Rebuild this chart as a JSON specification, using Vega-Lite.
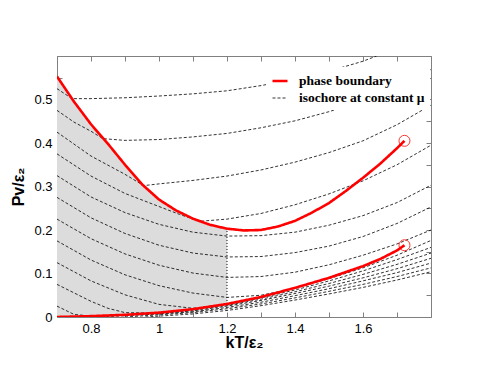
{
"$schema": "https://vega.github.io/schema/vega-lite/v6.json",
"width": 374, "height": 261,
"autosize": "none",
"padding": {"left": 57, "top": 56, "right": 54, "bottom": 57},
"config": {
 "view": {"stroke": "#808080", "strokeWidth": 1},
 "axis": {"domain": false, "grid": false, "tickColor": "#808080", "labelFont": "Liberation Sans", "labelFontSize": 13, "labelColor": "#000", "titleFont": "Liberation Sans", "titleFontSize": 16, "titleFontWeight": "bold", "titleColor": "#000"}
},
"datasets": {
 "fill": [
  {"x":0.7,"lo":0,"hi":0.553},{"x":0.75,"lo":0.001,"hi":0.495},{"x":0.8,"lo":0.002,"hi":0.443},{"x":0.85,"lo":0.003,"hi":0.398},{"x":0.9,"lo":0.005,"hi":0.35},{"x":0.95,"lo":0.007,"hi":0.305},{"x":1.0,"lo":0.01,"hi":0.27},{"x":1.05,"lo":0.014,"hi":0.245},{"x":1.1,"lo":0.018,"hi":0.226},{"x":1.15,"lo":0.024,"hi":0.212},{"x":1.2,"lo":0.03,"hi":0.203}
 ],
 "iso": [
  {"c":1,"x":0.7,"y":0.525},{"c":1,"x":0.744,"y":0.502},{"c":1,"x":0.8,"y":0.502},{"c":1,"x":0.9,"y":0.504},{"c":1,"x":1.0,"y":0.508},{"c":1,"x":1.1,"y":0.513},{"c":1,"x":1.2,"y":0.52},{"c":1,"x":1.3,"y":0.532},{"c":1,"x":1.4,"y":0.547},{"c":1,"x":1.5,"y":0.565},{"c":1,"x":1.6,"y":0.588},{"c":1,"x":1.64,"y":0.6},
  {"c":2,"x":0.7,"y":0.475},{"c":2,"x":0.75,"y":0.448},{"c":2,"x":0.8,"y":0.427},{"c":2,"x":0.835,"y":0.41},{"c":2,"x":0.9,"y":0.406},{"c":2,"x":1.0,"y":0.408},{"c":2,"x":1.1,"y":0.414},{"c":2,"x":1.2,"y":0.422},{"c":2,"x":1.3,"y":0.435},{"c":2,"x":1.4,"y":0.451},{"c":2,"x":1.5,"y":0.472},{"c":2,"x":1.6,"y":0.497},{"c":2,"x":1.7,"y":0.53},{"c":2,"x":1.8,"y":0.569},
  {"c":3,"x":0.7,"y":0.425},{"c":3,"x":0.8,"y":0.37},{"c":3,"x":0.9,"y":0.328},{"c":3,"x":0.955,"y":0.302},{"c":3,"x":1.0,"y":0.306},{"c":3,"x":1.1,"y":0.314},{"c":3,"x":1.2,"y":0.324},{"c":3,"x":1.3,"y":0.338},{"c":3,"x":1.4,"y":0.356},{"c":3,"x":1.5,"y":0.378},{"c":3,"x":1.6,"y":0.405},{"c":3,"x":1.7,"y":0.442},{"c":3,"x":1.8,"y":0.487},
  {"c":4,"x":0.7,"y":0.375},{"c":4,"x":0.8,"y":0.324},{"c":4,"x":0.9,"y":0.284},{"c":4,"x":1.0,"y":0.254},{"c":4,"x":1.06,"y":0.236},{"c":4,"x":1.12,"y":0.22},{"c":4,"x":1.2,"y":0.225},{"c":4,"x":1.3,"y":0.238},{"c":4,"x":1.4,"y":0.258},{"c":4,"x":1.5,"y":0.283},{"c":4,"x":1.6,"y":0.313},{"c":4,"x":1.7,"y":0.35},{"c":4,"x":1.8,"y":0.395},
  {"c":5,"x":0.7,"y":0.325},{"c":5,"x":0.8,"y":0.276},{"c":5,"x":0.9,"y":0.24},{"c":5,"x":1.0,"y":0.213},{"c":5,"x":1.1,"y":0.195},{"c":5,"x":1.2,"y":0.186},{"c":5,"x":1.3,"y":0.187},{"c":5,"x":1.4,"y":0.195},{"c":5,"x":1.5,"y":0.211},{"c":5,"x":1.6,"y":0.233},{"c":5,"x":1.7,"y":0.263},{"c":5,"x":1.8,"y":0.303},
  {"c":6,"x":0.7,"y":0.275},{"c":6,"x":0.8,"y":0.228},{"c":6,"x":0.9,"y":0.192},{"c":6,"x":1.0,"y":0.165},{"c":6,"x":1.1,"y":0.147},{"c":6,"x":1.2,"y":0.138},{"c":6,"x":1.3,"y":0.139},{"c":6,"x":1.4,"y":0.148},{"c":6,"x":1.5,"y":0.163},{"c":6,"x":1.6,"y":0.185},{"c":6,"x":1.7,"y":0.215},{"c":6,"x":1.8,"y":0.253},
  {"c":7,"x":0.7,"y":0.225},{"c":7,"x":0.8,"y":0.18},{"c":7,"x":0.9,"y":0.145},{"c":7,"x":1.0,"y":0.119},{"c":7,"x":1.1,"y":0.101},{"c":7,"x":1.2,"y":0.091},{"c":7,"x":1.3,"y":0.093},{"c":7,"x":1.4,"y":0.103},{"c":7,"x":1.5,"y":0.12},{"c":7,"x":1.6,"y":0.142},{"c":7,"x":1.7,"y":0.168},{"c":7,"x":1.8,"y":0.2},
  {"c":8,"x":0.7,"y":0.175},{"c":8,"x":0.8,"y":0.131},{"c":8,"x":0.9,"y":0.097},{"c":8,"x":1.0,"y":0.072},{"c":8,"x":1.1,"y":0.055},{"c":8,"x":1.2,"y":0.045},{"c":8,"x":1.3,"y":0.05},{"c":8,"x":1.4,"y":0.066},{"c":8,"x":1.5,"y":0.088},{"c":8,"x":1.6,"y":0.113},{"c":8,"x":1.7,"y":0.142},{"c":8,"x":1.8,"y":0.176},
  {"c":9,"x":0.7,"y":0.125},{"c":9,"x":0.8,"y":0.083},{"c":9,"x":0.9,"y":0.051},{"c":9,"x":1.0,"y":0.029},{"c":9,"x":1.1,"y":0.02},{"c":9,"x":1.2,"y":0.029},{"c":9,"x":1.3,"y":0.044},{"c":9,"x":1.4,"y":0.062},{"c":9,"x":1.5,"y":0.083},{"c":9,"x":1.6,"y":0.106},{"c":9,"x":1.7,"y":0.132},{"c":9,"x":1.8,"y":0.16},
  {"c":10,"x":0.7,"y":0.075},{"c":10,"x":0.8,"y":0.036},{"c":10,"x":0.85,"y":0.02},{"c":10,"x":0.9,"y":0.01},{"c":10,"x":1.0,"y":0.009},{"c":10,"x":1.1,"y":0.016},{"c":10,"x":1.2,"y":0.027},{"c":10,"x":1.3,"y":0.041},{"c":10,"x":1.4,"y":0.058},{"c":10,"x":1.5,"y":0.077},{"c":10,"x":1.6,"y":0.098},{"c":10,"x":1.7,"y":0.121},{"c":10,"x":1.8,"y":0.147},
  {"c":11,"x":0.7,"y":0.025},{"c":11,"x":0.75,"y":0.006},{"c":11,"x":0.8,"y":0.002},{"c":11,"x":0.9,"y":0.004},{"c":11,"x":1.0,"y":0.008},{"c":11,"x":1.1,"y":0.014},{"c":11,"x":1.2,"y":0.025},{"c":11,"x":1.3,"y":0.038},{"c":11,"x":1.4,"y":0.054},{"c":11,"x":1.5,"y":0.071},{"c":11,"x":1.6,"y":0.09},{"c":11,"x":1.7,"y":0.111},{"c":11,"x":1.8,"y":0.135},
  {"c":12,"x":0.83,"y":0},{"c":12,"x":0.9,"y":0.003},{"c":12,"x":1.0,"y":0.007},{"c":12,"x":1.1,"y":0.012},{"c":12,"x":1.2,"y":0.022},{"c":12,"x":1.3,"y":0.034},{"c":12,"x":1.4,"y":0.049},{"c":12,"x":1.5,"y":0.065},{"c":12,"x":1.6,"y":0.083},{"c":12,"x":1.7,"y":0.102},{"c":12,"x":1.8,"y":0.124},
  {"c":13,"x":0.9,"y":0},{"c":13,"x":1.0,"y":0.005},{"c":13,"x":1.1,"y":0.01},{"c":13,"x":1.2,"y":0.019},{"c":13,"x":1.3,"y":0.03},{"c":13,"x":1.4,"y":0.044},{"c":13,"x":1.5,"y":0.059},{"c":13,"x":1.6,"y":0.075},{"c":13,"x":1.7,"y":0.093},{"c":13,"x":1.8,"y":0.113},
  {"c":14,"x":0.96,"y":0},{"c":14,"x":1.0,"y":0.002},{"c":14,"x":1.1,"y":0.007},{"c":14,"x":1.2,"y":0.015},{"c":14,"x":1.3,"y":0.026},{"c":14,"x":1.4,"y":0.039},{"c":14,"x":1.5,"y":0.053},{"c":14,"x":1.6,"y":0.068},{"c":14,"x":1.7,"y":0.085},{"c":14,"x":1.8,"y":0.104}
 ],
 "pb": [
  {"c":"u","x":0.7,"y":0.553},{"c":"u","x":0.75,"y":0.495},{"c":"u","x":0.8,"y":0.443},{"c":"u","x":0.85,"y":0.398},{"c":"u","x":0.9,"y":0.35},{"c":"u","x":0.95,"y":0.305},{"c":"u","x":1.0,"y":0.27},{"c":"u","x":1.05,"y":0.245},{"c":"u","x":1.1,"y":0.226},{"c":"u","x":1.15,"y":0.212},{"c":"u","x":1.2,"y":0.203},{"c":"u","x":1.25,"y":0.199},{"c":"u","x":1.3,"y":0.2},{"c":"u","x":1.35,"y":0.208},{"c":"u","x":1.4,"y":0.221},{"c":"u","x":1.45,"y":0.24},{"c":"u","x":1.5,"y":0.262},{"c":"u","x":1.55,"y":0.29},{"c":"u","x":1.6,"y":0.32},{"c":"u","x":1.65,"y":0.352},{"c":"u","x":1.7,"y":0.388},{"c":"u","x":1.722,"y":0.405},
  {"c":"l","x":0.7,"y":0},{"c":"l","x":0.8,"y":0.002},{"c":"l","x":0.9,"y":0.005},{"c":"l","x":1.0,"y":0.01},{"c":"l","x":1.1,"y":0.018},{"c":"l","x":1.2,"y":0.03},{"c":"l","x":1.3,"y":0.046},{"c":"l","x":1.4,"y":0.067},{"c":"l","x":1.5,"y":0.09},{"c":"l","x":1.6,"y":0.117},{"c":"l","x":1.65,"y":0.133},{"c":"l","x":1.7,"y":0.153},{"c":"l","x":1.722,"y":0.165}
 ],
 "div": [{"x":1.2,"y":0.03,"y2":0.203}],
 "crit": [{"x":1.722,"y":0.405},{"x":1.722,"y":0.165}]
},
"resolve": {"axis": {"x": "independent", "y": "independent"}},
"layer": [
 {
  "data": {"name": "fill"},
  "mark": {"type": "area", "color": "#dcdcdc", "opacity": 1},
  "encoding": {
   "x": {"field": "x", "type": "quantitative", "scale": {"domain": [0.7, 1.8], "nice": false, "zero": false},
    "axis": {"orient": "bottom", "title": "kT/ε₂", "values": [0.7,0.8,0.9,1.0,1.1,1.2,1.3,1.4,1.5,1.6,1.7,1.8], "tickSize": -5, "labelPadding": 10, "labelExpr": "(round(datum.value*10)%2==0 && datum.value<1.7) ? format(datum.value,'~g') : ''", "titlePadding": -1}},
   "y": {"field": "lo", "type": "quantitative", "scale": {"domain": [0, 0.6], "nice": false, "zero": false},
    "axis": {"orient": "left", "title": "Pv/ε₂", "values": [0,0.05,0.1,0.15,0.2,0.25,0.3,0.35,0.4,0.45,0.5,0.55,0.6], "tickSize": -5, "labelPadding": 10, "labelExpr": "(round(datum.value*20)%2==0 && datum.value<0.55) ? format(datum.value,'~g') : ''", "titlePadding": 7}},
   "y2": {"field": "hi"}
  }
 },
 {
  "data": {"name": "iso"},
  "mark": {"type": "line", "clip": true},
  "encoding": {
   "x": {"field": "x", "type": "quantitative", "scale": {"domain": [0.7, 1.8], "nice": false, "zero": false},
    "axis": {"orient": "top", "title": null, "labels": false, "values": [0.7,0.8,0.9,1.0,1.1,1.2,1.3,1.4,1.5,1.6,1.7,1.8], "tickSize": -5}},
   "y": {"field": "y", "type": "quantitative", "scale": {"domain": [0, 0.6], "nice": false, "zero": false},
    "axis": {"orient": "right", "title": null, "labels": false, "values": [0,0.05,0.1,0.15,0.2,0.25,0.3,0.35,0.4,0.45,0.5,0.55,0.6], "tickSize": -5}},
   "detail": {"field": "c"},
   "color": {"datum": "isochore at constant μ", "type": "nominal", "scale": {"domain": ["phase boundary", "isochore at constant μ"], "range": ["#ff0000", "#000000"]},
    "legend": {"orient": "none", "legendX": 209, "legendY": 11, "title": null, "fillColor": "white", "padding": 5, "labelFont": "Liberation Serif", "labelFontSize": 13.5, "labelFontWeight": "bold", "labelColor": "#000", "symbolType": "stroke", "symbolSize": 225, "labelOffset": 10, "rowPadding": 2}},
   "strokeDash": {"datum": "isochore at constant μ", "type": "nominal", "scale": {"domain": ["phase boundary", "isochore at constant μ"], "range": [[1,0],[3,2]]},
    "legend": {"orient": "none", "legendX": 209, "legendY": 11, "title": null, "fillColor": "white", "padding": 5, "labelFont": "Liberation Serif", "labelFontSize": 13.5, "labelFontWeight": "bold", "labelColor": "#000", "symbolType": "stroke", "symbolSize": 225, "labelOffset": 10, "rowPadding": 2}},
   "strokeWidth": {"datum": "isochore at constant μ", "type": "nominal", "scale": {"domain": ["phase boundary", "isochore at constant μ"], "range": [2.6, 0.8]},
    "legend": {"orient": "none", "legendX": 209, "legendY": 11, "title": null, "fillColor": "white", "padding": 5, "labelFont": "Liberation Serif", "labelFontSize": 13.5, "labelFontWeight": "bold", "labelColor": "#000", "symbolType": "stroke", "symbolSize": 225, "labelOffset": 10, "rowPadding": 2}}
  }
 },
 {
  "data": {"name": "div"},
  "mark": {"type": "rule", "color": "#000", "strokeWidth": 1, "strokeDash": [1, 2]},
  "encoding": {
   "x": {"field": "x", "type": "quantitative", "axis": null},
   "y": {"field": "y", "type": "quantitative", "axis": null},
   "y2": {"field": "y2"}
  }
 },
 {
  "data": {"name": "pb"},
  "mark": {"type": "line", "clip": true},
  "encoding": {
   "x": {"field": "x", "type": "quantitative", "axis": null},
   "y": {"field": "y", "type": "quantitative", "axis": null},
   "detail": {"field": "c"},
   "color": {"datum": "phase boundary", "type": "nominal"},
   "strokeDash": {"datum": "phase boundary", "type": "nominal"},
   "strokeWidth": {"datum": "phase boundary", "type": "nominal"}
  }
 },
 {
  "data": {"name": "crit"},
  "mark": {"type": "point", "shape": "circle", "filled": false, "color": "#ff0000", "size": 121, "strokeWidth": 1, "opacity": 0.8},
  "encoding": {
   "x": {"field": "x", "type": "quantitative", "axis": null},
   "y": {"field": "y", "type": "quantitative", "axis": null}
  }
 }
]
}
